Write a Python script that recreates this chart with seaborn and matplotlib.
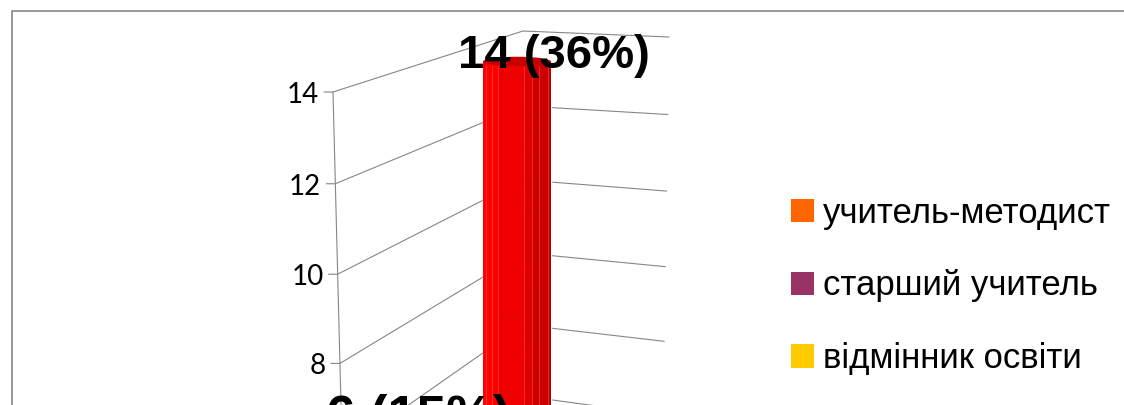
import matplotlib
matplotlib.use("Agg")
import matplotlib.pyplot as plt
import seaborn as sns
import numpy as np
import pandas as pd
from matplotlib.colors import ListedColormap
from matplotlib.patches import Ellipse, Patch

# chart values
bar_labels = ["6 (15%)", "14 (36%)"]
bar_values = [6, 14]
axis_ticks = [14, 12, 10, 8, 6, 4, 2]
legend_labels = ["учитель-методист", "старший учитель", "відмінник освіти"]
legend_colors = ["#FF6600", "#993366", "#FFCC00"]

# figure size and projection of the 3D box (pixels)
W, H = 1124, 405
PX_PER_UNIT = 45.25
BAR_TOP_PX = 61.5
BAR_STEP_PX = 136
FIRST_BAR_PX = 381
GRID = "#868686"


def front_xy(v):
    d = 14 - v
    return 333 + 1.15 * d, 92 + 46.2 * d - 0.16 * d ** 2


def back_y(v):
    d = 14 - v
    return 31 + 37.7 * d - 0.12 * d ** 2


def right_xy(v):
    d = 14 - v
    return 669 - 0.6 * d, 37 + 39 * d - 0.12 * d ** 2


sns.set_theme(style="white")
plt.rcParams['font.family'] = ['Liberation Sans', 'DejaVu Sans']

fig = plt.figure(figsize=(W / 100, H / 100), dpi=100, facecolor="white")

# box frame and walls, in pixels
bg = fig.add_axes([0, 0, 1, 1], zorder=1)
bg.set_xlim(0, W)
bg.set_ylim(H, 0)
bg.axis("off")
bg.plot([11.5, 11.5, W], [H, 10.5, 10.5], color=GRID, lw=1.2)

for v in axis_ticks:
    fx, fy = front_xy(v)
    rx, ry = right_xy(v)
    bg.plot([fx - 9, fx, 523, rx], [fy, fy, back_y(v), ry], color=GRID, lw=0.8)
    if fy < H:
        bg.text(fx - 14, fy + 3, str(v), ha="right", va="center", fontsize=20,
                family=["Lato", "DejaVu Sans"], color="black")
fx0, fy0 = front_xy(14)
fx1, fy1 = front_xy(6)
bg.plot([fx0, fx1], [fy0, fy1], color=GRID, lw=0.8)

# bars
ax = fig.add_axes([0, 0, 1, 1], zorder=2)
ax.patch.set_alpha(0)
plot_data = pd.DataFrame({'label': bar_labels, 'value': bar_values})
sns.barplot(data=plot_data, x='label', y='value', order=bar_labels, color="#FF0000",
            width=68 / BAR_STEP_PX, saturation=1, ax=ax)

xlim = (-FIRST_BAR_PX / BAR_STEP_PX, (W - FIRST_BAR_PX) / BAR_STEP_PX)
ylim = (14 - (H - BAR_TOP_PX) / PX_PER_UNIT, 14 + BAR_TOP_PX / PX_PER_UNIT)

# cylinder shading, facet colours from left to right
facets = (["#FF0000"] * 15 + ["#F00000"] * 27 + ["#DD0000"] * 8 +
          ["#CC0000"] * 16 + ["#BE0000"] * 2)
cmap = ListedColormap(facets)
for bar in ax.patches:
    x0, w, h = bar.get_x(), bar.get_width(), bar.get_height()
    im = ax.imshow(np.arange(len(facets))[None, :], cmap=cmap, aspect="auto",
                   extent=(x0, x0 + w, 0, h), zorder=3)
    im.set_clip_path(bar)
    for frac in [0.04, 0.125, 0.22, 0.60, 0.72, 0.83, 0.96]:
        ax.plot([x0 + frac * w] * 2, [0, h - 0.1], color="#FF8080", lw=0.5, alpha=0.5, zorder=4)
    ax.add_patch(Ellipse((x0 + w / 2, h), w, 9.5 / PX_PER_UNIT, color="#C80000", lw=0, zorder=5))

ax.set_xlim(*xlim)
ax.set_ylim(*ylim)
ax.axis("off")

# value labels, the lower one is drawn a bit bigger in the original
for bar, lab, size, drop in zip(ax.patches, bar_labels, [38, 34], [-9, -6]):
    ax.annotate(lab, (bar.get_x() + bar.get_width() / 2, bar.get_height()),
                xytext=(37, drop), textcoords="offset pixels", ha="center", va="baseline",
                fontsize=size, fontweight="bold", color="black", zorder=10, annotation_clip=False)

handles = [Patch(facecolor=c, edgecolor="none") for c in legend_colors]
ax.legend(handles, legend_labels, loc="upper left", bbox_to_anchor=(791 / W, 1 - 196.5 / H),
          frameon=False, fontsize=25, handlelength=0.66, handleheight=0.66, handletextpad=0.26,
          labelspacing=1.15, borderpad=0, borderaxespad=0, labelcolor="black")

fig.savefig("out.png", dpi=100)
